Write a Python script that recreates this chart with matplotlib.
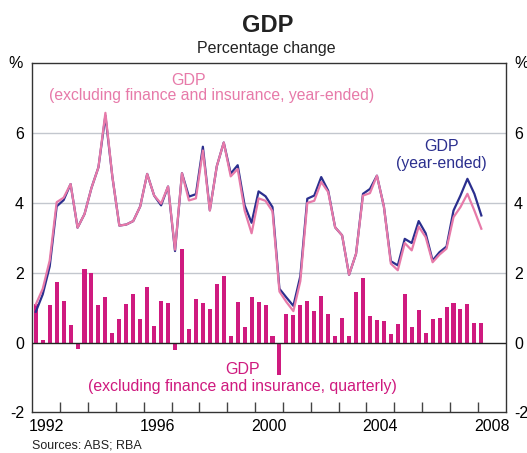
import numpy as np
import pandas as pd
from matplotlib import pyplot as plt

plt.rcParams['font.family'] = ['Liberation Sans', 'DejaVu Sans']

# Quarterly data, March 1992 to March 2008
quarters = pd.period_range('1992Q1', '2008Q1', freq='Q')

gdp_ye = [0.88, 1.38, 2.18, 3.90, 4.08, 4.54, 3.29, 3.68, 4.43, 5.02, 6.50, 4.75,
          3.35, 3.38, 3.48, 3.90, 4.83, 4.21, 3.93, 4.47, 2.62, 4.85, 4.18,
          4.25, 5.61, 3.79, 5.05, 5.73, 4.84, 5.08, 3.93, 3.43, 4.33, 4.19, 3.88,
          1.54, 1.29, 1.05, 1.90, 4.12, 4.21, 4.74, 4.35, 3.30, 3.07, 1.94, 2.54,
          4.26, 4.40, 4.78, 3.90, 2.33, 2.21, 2.97, 2.85, 3.48, 3.13, 2.35,
          2.59, 2.75, 3.78, 4.21, 4.69, 4.26, 3.64]

gdp_xfi_ye = [1.09, 1.54, 2.35, 4.02, 4.15, 4.54, 3.29, 3.68, 4.43, 5.02, 6.58, 4.75,
              3.35, 3.38, 3.48, 3.90, 4.83, 4.21, 3.98, 4.47, 2.66, 4.85, 4.07,
              4.13, 5.50, 3.78, 5.05, 5.73, 4.76, 4.97, 3.78, 3.13, 4.13, 4.06, 3.76,
              1.46, 1.16, 0.90, 1.76, 4.00, 4.06, 4.60, 4.31, 3.30, 3.07, 1.94, 2.54,
              4.21, 4.28, 4.78, 3.90, 2.26, 2.07, 2.85, 2.64, 3.32, 3.02, 2.30,
              2.52, 2.69, 3.59, 3.88, 4.26, 3.78, 3.26]

gdp_xfi_qtr = [1.10, 0.07, 1.07, 1.72, 1.18, 0.50, -0.18, 2.10, 1.98, 1.07, 1.30, 0.27,
               0.67, 1.10, 1.38, 0.67, 1.58, 0.47, 1.18, 1.12, -0.21, 2.67, 0.38,
               1.24, 1.12, 0.95, 1.67, 1.90, 0.18, 1.15, 0.44, 1.30, 1.15, 1.07, 0.18,
               -0.93, 0.81, 0.78, 1.07, 1.18, 0.90, 1.32, 0.81, 0.18, 0.70, 0.18,
               1.44, 1.84, 0.75, 0.64, 0.61, 0.24, 0.52, 1.38, 0.44, 0.92, 0.27, 0.67,
               0.70, 1.01, 1.12, 0.95, 1.10, 0.55, 0.55]

year_labels = [1992, 1996, 2000, 2004, 2008]
y_ticks = [-2, 0, 2, 4, 6]

navy = '#2b2f8e'
pink = '#e77aa9'
magenta = '#cf1a7f'

# mid-quarter positions in decimal years
x = np.array([q.year + (q.quarter - 0.5) / 4 for q in quarters])

fig = plt.figure(figsize=(5.27, 4.53), dpi=100)
ax = fig.add_axes([0.0613, 0.0898, 0.8983, 0.7705])

for yv in [2, 4, 6]:
    ax.axhline(yv, color='#c3c7ce', lw=1.0, zorder=0)

ax.bar(x, gdp_xfi_qtr, width=0.145, color=magenta, zorder=2)
ax.axhline(0, color='#222222', lw=1.0, zorder=3)
ax.plot(x, gdp_ye, color=navy, lw=1.6, zorder=4)
ax.plot(x, gdp_xfi_ye, color=pink, lw=1.6, zorder=5)

ax.set_xlim(1992, 2009)
ax.set_ylim(-2, 8)

# yearly ticks inside, labels centred on the year
ax.set_xticks(np.arange(1993, 2009))
ax.set_xticklabels([])
ax.set_xticks([yr + 0.5 for yr in year_labels], minor=True)
ax.set_xticklabels([str(yr) for yr in year_labels], minor=True, fontsize=11.5)
ax.tick_params(axis='x', which='major', direction='in', length=7, width=1, color='#444444')
ax.tick_params(axis='x', which='minor', length=0, pad=5)

ax.set_yticks(y_ticks)
ax.set_yticklabels([str(v) for v in y_ticks], fontsize=11.5)
ax.tick_params(axis='y', length=0, pad=6, labelright=True)

for s in ax.spines.values():
    s.set_color('#333333')
    s.set_linewidth(1.0)

ax.text(-0.035, 1.0, '%', transform=ax.transAxes, fontsize=11.5, ha='center', va='center')
ax.text(1.033, 1.0, '%', transform=ax.transAxes, fontsize=11.5, ha='center', va='center')

fig.text(0.508, 0.944, 'GDP', fontsize=17, fontweight='bold', ha='center', va='center', color='#222222')
fig.text(0.506, 0.892, 'Percentage change', fontsize=11.5, ha='center', va='center', color='#222222')

ax.text(1997.6, 7.52, 'GDP', fontsize=11.5, color=pink, ha='center', va='center')
ax.text(1998.45, 7.07, '(excluding finance and insurance, year-ended)', fontsize=11.3,
        color=pink, ha='center', va='center')
ax.text(2006.68, 5.63, 'GDP', fontsize=11.5, color=navy, ha='center', va='center')
ax.text(2006.68, 5.14, '(year-ended)', fontsize=11.3, color=navy, ha='center', va='center')
ax.text(1999.55, -0.77, 'GDP', fontsize=11.5, color=magenta, ha='center', va='center')
ax.text(1999.55, -1.26, '(excluding finance and insurance, quarterly)', fontsize=11.4,
        color=magenta, ha='center', va='center')

fig.text(0.061, 0.003, 'Sources: ABS; RBA', fontsize=9, ha='left', va='bottom', color='#222222')

plt.savefig('out.png', dpi=100)
